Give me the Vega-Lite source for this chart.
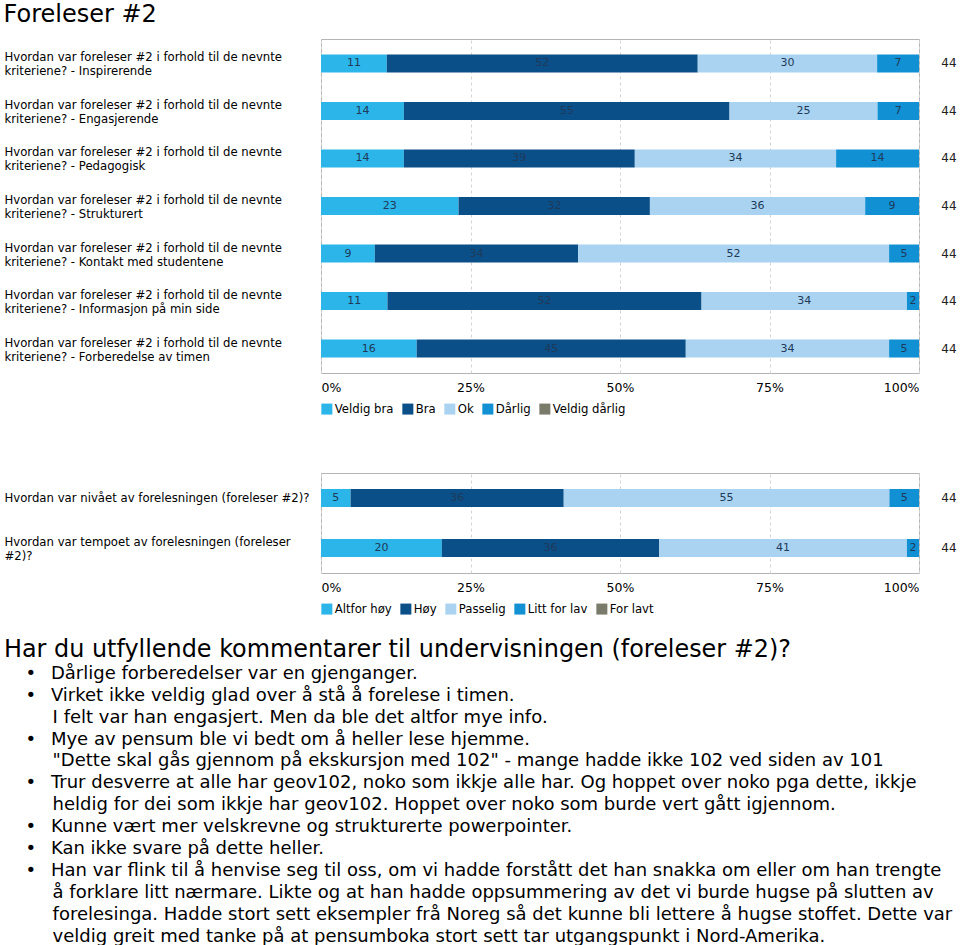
{
  "$schema": "https://vega.github.io/schema/vega-lite/v6.json",
  "background": "white",
  "padding": {"left": 3, "top": 2, "right": 0, "bottom": 0},
  "title": {"text": "Foreleser #2", "anchor": "start", "frame": "bounds", "fontSize": 24, "fontWeight": "normal", "font": "DejaVu Sans", "color": "#000000", "offset": 12},
  "config": {
    "font": "DejaVu Sans",
    "view": {"stroke": "#b4b4b4", "strokeWidth": 1}
  },
  "spacing": 55,
  "resolve": {"scale": {"color": "independent", "x": "independent", "y": "independent"}, "legend": {"color": "independent"}},
  "vconcat": [
    {
      "width": 598,
      "height": 334,
      "data": {"values": [
        {"sporsmal": "Hvordan var foreleser #2 i forhold til de nevnte\nkriteriene? - Inspirerende", "kategori": "Veldig bra", "pct": 11, "n": 44},
        {"sporsmal": "Hvordan var foreleser #2 i forhold til de nevnte\nkriteriene? - Inspirerende", "kategori": "Bra", "pct": 52, "n": 44},
        {"sporsmal": "Hvordan var foreleser #2 i forhold til de nevnte\nkriteriene? - Inspirerende", "kategori": "Ok", "pct": 30, "n": 44},
        {"sporsmal": "Hvordan var foreleser #2 i forhold til de nevnte\nkriteriene? - Inspirerende", "kategori": "Dårlig", "pct": 7, "n": 44},
        {"sporsmal": "Hvordan var foreleser #2 i forhold til de nevnte\nkriteriene? - Engasjerende", "kategori": "Veldig bra", "pct": 14, "n": 44},
        {"sporsmal": "Hvordan var foreleser #2 i forhold til de nevnte\nkriteriene? - Engasjerende", "kategori": "Bra", "pct": 55, "n": 44},
        {"sporsmal": "Hvordan var foreleser #2 i forhold til de nevnte\nkriteriene? - Engasjerende", "kategori": "Ok", "pct": 25, "n": 44},
        {"sporsmal": "Hvordan var foreleser #2 i forhold til de nevnte\nkriteriene? - Engasjerende", "kategori": "Dårlig", "pct": 7, "n": 44},
        {"sporsmal": "Hvordan var foreleser #2 i forhold til de nevnte\nkriteriene? - Pedagogisk", "kategori": "Veldig bra", "pct": 14, "n": 44},
        {"sporsmal": "Hvordan var foreleser #2 i forhold til de nevnte\nkriteriene? - Pedagogisk", "kategori": "Bra", "pct": 39, "n": 44},
        {"sporsmal": "Hvordan var foreleser #2 i forhold til de nevnte\nkriteriene? - Pedagogisk", "kategori": "Ok", "pct": 34, "n": 44},
        {"sporsmal": "Hvordan var foreleser #2 i forhold til de nevnte\nkriteriene? - Pedagogisk", "kategori": "Dårlig", "pct": 14, "n": 44},
        {"sporsmal": "Hvordan var foreleser #2 i forhold til de nevnte\nkriteriene? - Strukturert", "kategori": "Veldig bra", "pct": 23, "n": 44},
        {"sporsmal": "Hvordan var foreleser #2 i forhold til de nevnte\nkriteriene? - Strukturert", "kategori": "Bra", "pct": 32, "n": 44},
        {"sporsmal": "Hvordan var foreleser #2 i forhold til de nevnte\nkriteriene? - Strukturert", "kategori": "Ok", "pct": 36, "n": 44},
        {"sporsmal": "Hvordan var foreleser #2 i forhold til de nevnte\nkriteriene? - Strukturert", "kategori": "Dårlig", "pct": 9, "n": 44},
        {"sporsmal": "Hvordan var foreleser #2 i forhold til de nevnte\nkriteriene? - Kontakt med studentene", "kategori": "Veldig bra", "pct": 9, "n": 44},
        {"sporsmal": "Hvordan var foreleser #2 i forhold til de nevnte\nkriteriene? - Kontakt med studentene", "kategori": "Bra", "pct": 34, "n": 44},
        {"sporsmal": "Hvordan var foreleser #2 i forhold til de nevnte\nkriteriene? - Kontakt med studentene", "kategori": "Ok", "pct": 52, "n": 44},
        {"sporsmal": "Hvordan var foreleser #2 i forhold til de nevnte\nkriteriene? - Kontakt med studentene", "kategori": "Dårlig", "pct": 5, "n": 44},
        {"sporsmal": "Hvordan var foreleser #2 i forhold til de nevnte\nkriteriene? - Informasjon på min side", "kategori": "Veldig bra", "pct": 11, "n": 44},
        {"sporsmal": "Hvordan var foreleser #2 i forhold til de nevnte\nkriteriene? - Informasjon på min side", "kategori": "Bra", "pct": 52, "n": 44},
        {"sporsmal": "Hvordan var foreleser #2 i forhold til de nevnte\nkriteriene? - Informasjon på min side", "kategori": "Ok", "pct": 34, "n": 44},
        {"sporsmal": "Hvordan var foreleser #2 i forhold til de nevnte\nkriteriene? - Informasjon på min side", "kategori": "Dårlig", "pct": 2, "n": 44},
        {"sporsmal": "Hvordan var foreleser #2 i forhold til de nevnte\nkriteriene? - Forberedelse av timen", "kategori": "Veldig bra", "pct": 16, "n": 44},
        {"sporsmal": "Hvordan var foreleser #2 i forhold til de nevnte\nkriteriene? - Forberedelse av timen", "kategori": "Bra", "pct": 45, "n": 44},
        {"sporsmal": "Hvordan var foreleser #2 i forhold til de nevnte\nkriteriene? - Forberedelse av timen", "kategori": "Ok", "pct": 34, "n": 44},
        {"sporsmal": "Hvordan var foreleser #2 i forhold til de nevnte\nkriteriene? - Forberedelse av timen", "kategori": "Dårlig", "pct": 5, "n": 44}
      ]},
      "transform": [{"stack": "pct", "groupby": ["sporsmal"], "offset": "normalize", "as": ["x0", "x1"]}],
      "encoding": {
        "y": {
          "field": "sporsmal", "type": "nominal",
          "sort": [
            "Hvordan var foreleser #2 i forhold til de nevnte\nkriteriene? - Inspirerende",
            "Hvordan var foreleser #2 i forhold til de nevnte\nkriteriene? - Engasjerende",
            "Hvordan var foreleser #2 i forhold til de nevnte\nkriteriene? - Pedagogisk",
            "Hvordan var foreleser #2 i forhold til de nevnte\nkriteriene? - Strukturert",
            "Hvordan var foreleser #2 i forhold til de nevnte\nkriteriene? - Kontakt med studentene",
            "Hvordan var foreleser #2 i forhold til de nevnte\nkriteriene? - Informasjon på min side",
            "Hvordan var foreleser #2 i forhold til de nevnte\nkriteriene? - Forberedelse av timen"
          ],
          "scale": {"paddingInner": 0.621, "paddingOuter": 0.326},
          "axis": {"title": null, "domain": false, "ticks": false, "tickSize": 0, "labelAlign": "left", "labelBaseline": "middle", "labelOffset": -6, "labelPadding": 317, "labelLimit": 0, "labelFontSize": 11.7, "labelLineHeight": 14, "labelColor": "#000000", "labelExpr": "split(datum.label, '\\n')"}
        }
      },
      "layer": [
        {
          "mark": {"type": "bar"},
          "encoding": {
            "x": {"field": "x0", "type": "quantitative", "scale": {"domain": [0, 1], "nice": false},
              "axis": {"title": null, "format": ".0%", "values": [0, 0.25, 0.5, 0.75, 1], "grid": true, "gridDash": [3, 3], "gridColor": "#d4d4d4", "domain": false, "ticks": false, "tickSize": 0, "labelFlush": true, "labelPadding": 8, "labelFontSize": 12.5, "labelColor": "#000000"}},
            "x2": {"field": "x1"},
            "color": {"field": "kategori", "type": "nominal",
              "scale": {"domain": ["Veldig bra", "Bra", "Ok", "Dårlig", "Veldig dårlig"], "range": ["#2bb5e8", "#0a4f88", "#a9d3f1", "#1190d3", "#7b7b6b"]},
              "legend": {"title": null, "orient": "bottom", "direction": "horizontal", "symbolType": "square", "symbolSize": 121, "symbolStrokeWidth": 0, "labelFontSize": 11.7, "labelOffset": 2, "columnPadding": 8, "offset": 9, "padding": 0, "labelColor": "#000000"}}
          }
        },
        {
          "transform": [
            {"fold": ["x0", "x1"], "as": ["kant", "pos"]},
            {"aggregate": [{"op": "mean", "field": "pos", "as": "midt"}], "groupby": ["sporsmal", "kategori", "pct"]}
          ],
          "mark": {"type": "text", "fontSize": 11, "color": "#1f3a5a"},
          "encoding": {
            "x": {"field": "midt", "type": "quantitative"},
            "text": {"field": "pct", "type": "quantitative"}
          }
        },
        {
          "transform": [{"aggregate": [{"op": "max", "field": "n", "as": "n"}], "groupby": ["sporsmal"]}],
          "mark": {"type": "text", "dx": 30, "fontSize": 12, "color": "#222222"},
          "encoding": {
            "x": {"datum": 1},
            "text": {"field": "n", "type": "quantitative"}
          }
        }
      ]
    },
    {
      "width": 598,
      "height": 100,
      "title": {
        "text": "Har du utfyllende kommentarer til undervisningen (foreleser #2)?",
        "subtitle": [
          "\u200b\u2003\u2009•\u2002\u00a0Dårlige forberedelser var en gjenganger.",
          "\u200b\u2003\u2009•\u2002\u00a0Virket ikke veldig glad over å stå å forelese i timen.",
          "\u200b\u2003\u2003\u2002\u2009I felt var han engasjert. Men da ble det altfor mye info.",
          "\u200b\u2003\u2009•\u2002\u00a0Mye av pensum ble vi bedt om å heller lese hjemme.",
          "\u200b\u2003\u2003\u2002\u2009\"Dette skal gås gjennom på ekskursjon med 102\" - mange hadde ikke 102 ved siden av 101",
          "\u200b\u2003\u2009•\u2002\u00a0Trur desverre at alle har geov102, noko som ikkje alle har. Og hoppet over noko pga dette, ikkje",
          "\u200b\u2003\u2003\u2002\u2009heldig for dei som ikkje har geov102. Hoppet over noko som burde vert gått igjennom.",
          "\u200b\u2003\u2009•\u2002\u00a0Kunne vært mer velskrevne og strukturerte powerpointer.",
          "\u200b\u2003\u2009•\u2002\u00a0Kan ikke svare på dette heller.",
          "\u200b\u2003\u2009•\u2002\u00a0Han var flink til å henvise seg til oss, om vi hadde forstått det han snakka om eller om han trengte",
          "\u200b\u2003\u2003\u2002\u2009å forklare litt nærmare. Likte og at han hadde oppsummering av det vi burde hugse på slutten av",
          "\u200b\u2003\u2003\u2002\u2009forelesinga. Hadde stort sett eksempler frå Noreg så det kunne bli lettere å hugse stoffet. Dette var",
          "\u200b\u2003\u2003\u2002\u2009veldig greit med tanke på at pensumboka stort sett tar utgangspunkt i Nord-Amerika."
        ],
        "orient": "bottom", "anchor": "start", "frame": "bounds",
        "font": "DejaVu Sans", "fontSize": 23.9, "fontWeight": "normal", "color": "#000000", "offset": 22,
        "subtitleFont": "DejaVu Sans", "subtitleFontSize": 18, "subtitleLineHeight": 21.9, "subtitleColor": "#000000", "subtitlePadding": 3
      },
      "data": {"values": [
        {"sporsmal": "Hvordan var nivået av forelesningen (foreleser #2)?", "kategori": "Altfor høy", "pct": 5, "n": 44},
        {"sporsmal": "Hvordan var nivået av forelesningen (foreleser #2)?", "kategori": "Høy", "pct": 36, "n": 44},
        {"sporsmal": "Hvordan var nivået av forelesningen (foreleser #2)?", "kategori": "Passelig", "pct": 55, "n": 44},
        {"sporsmal": "Hvordan var nivået av forelesningen (foreleser #2)?", "kategori": "Litt for lav", "pct": 5, "n": 44},
        {"sporsmal": "Hvordan var tempoet av forelesningen (foreleser\n#2)?", "kategori": "Altfor høy", "pct": 20, "n": 44},
        {"sporsmal": "Hvordan var tempoet av forelesningen (foreleser\n#2)?", "kategori": "Høy", "pct": 36, "n": 44},
        {"sporsmal": "Hvordan var tempoet av forelesningen (foreleser\n#2)?", "kategori": "Passelig", "pct": 41, "n": 44},
        {"sporsmal": "Hvordan var tempoet av forelesningen (foreleser\n#2)?", "kategori": "Litt for lav", "pct": 2, "n": 44}
      ]},
      "transform": [{"stack": "pct", "groupby": ["sporsmal"], "offset": "normalize", "as": ["x0", "x1"]}],
      "encoding": {
        "y": {
          "field": "sporsmal", "type": "nominal",
          "sort": ["Hvordan var nivået av forelesningen (foreleser #2)?", "Hvordan var tempoet av forelesningen (foreleser\n#2)?"],
          "scale": {"paddingInner": 0.64, "paddingOuter": 0.32},
          "axis": {"title": null, "domain": false, "ticks": false, "tickSize": 0, "labelAlign": "left", "labelBaseline": "middle",
            "labelOffset": {"condition": {"test": "indexof(datum.value, '\\n') >= 0", "value": -6}, "value": 0},
            "labelPadding": 317, "labelLimit": 0, "labelFontSize": 11.7, "labelLineHeight": 14, "labelColor": "#000000", "labelExpr": "split(datum.label, '\\n')"}
        }
      },
      "layer": [
        {
          "mark": {"type": "bar"},
          "encoding": {
            "x": {"field": "x0", "type": "quantitative", "scale": {"domain": [0, 1], "nice": false},
              "axis": {"title": null, "format": ".0%", "values": [0, 0.25, 0.5, 0.75, 1], "grid": true, "gridDash": [3, 3], "gridColor": "#d4d4d4", "domain": false, "ticks": false, "tickSize": 0, "labelFlush": true, "labelPadding": 8, "labelFontSize": 12.5, "labelColor": "#000000"}},
            "x2": {"field": "x1"},
            "color": {"field": "kategori", "type": "nominal",
              "scale": {"domain": ["Altfor høy", "Høy", "Passelig", "Litt for lav", "For lavt"], "range": ["#2bb5e8", "#0a4f88", "#a9d3f1", "#1190d3", "#7b7b6b"]},
              "legend": {"title": null, "orient": "bottom", "direction": "horizontal", "symbolType": "square", "symbolSize": 121, "symbolStrokeWidth": 0, "labelFontSize": 11.7, "labelOffset": 2, "columnPadding": 8, "offset": 9, "padding": 0, "labelColor": "#000000"}}
          }
        },
        {
          "transform": [
            {"fold": ["x0", "x1"], "as": ["kant", "pos"]},
            {"aggregate": [{"op": "mean", "field": "pos", "as": "midt"}], "groupby": ["sporsmal", "kategori", "pct"]}
          ],
          "mark": {"type": "text", "fontSize": 11, "color": "#1f3a5a"},
          "encoding": {
            "x": {"field": "midt", "type": "quantitative"},
            "text": {"field": "pct", "type": "quantitative"}
          }
        },
        {
          "transform": [{"aggregate": [{"op": "max", "field": "n", "as": "n"}], "groupby": ["sporsmal"]}],
          "mark": {"type": "text", "dx": 30, "fontSize": 12, "color": "#222222"},
          "encoding": {
            "x": {"datum": 1},
            "text": {"field": "n", "type": "quantitative"}
          }
        }
      ]
    }
  ]
}
